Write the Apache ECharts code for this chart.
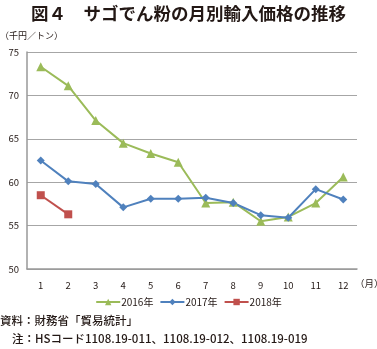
<!DOCTYPE html>
<html>
<head>
<meta charset="utf-8">
<script src="https://cdn.jsdelivr.net/npm/echarts@6/dist/echarts.min.js"></script>
<style>
  html, body { margin: 0; padding: 0; background: #fff; }
  #chart { width: 377px; height: 349px; }
</style>
</head>
<body>
<div id="chart"></div>
<script>
// Monthly import price of sago starch (thousand yen per ton)
const months = ['1', '2', '3', '4', '5', '6', '7', '8', '9', '10', '11', '12'];
const price2016 = [73.3, 71.1, 67.1, 64.5, 63.3, 62.3, 57.6, 57.7, 55.5, 56.0, 57.6, 60.6];
const price2017 = [62.5, 60.1, 59.8, 57.1, 58.1, 58.1, 58.2, 57.6, 56.2, 55.9, 59.2, 58.0];
const price2018 = [58.5, 56.3];
const yTicks = { min: 50, max: 75, step: 5 };

const FONT = '"Noto Sans CJK JP", "Noto Sans", sans-serif';
const chart = echarts.init(document.getElementById('chart'), null, { renderer: 'canvas' });

function series(name, data, color, symbol, size) {
  return {
    name: name,
    type: 'line',
    data: data,
    symbol: symbol,
    symbolSize: size,
    lineStyle: { color: color, width: 2 },
    itemStyle: { color: color },
    animation: false
  };
}

chart.setOption({
  animation: false,
  textStyle: { fontFamily: FONT },
  title: {
    text: '図４　サゴでん粉の月別輸入価格の推移',
    left: 'center',
    top: 0,
    textStyle: { fontFamily: FONT, fontSize: 17.5, fontWeight: 'bold', color: '#231815' }
  },
  grid: { left: 27, right: 20, top: 52, bottom: 80 },
  xAxis: {
    type: 'category',
    data: months,
    boundaryGap: true,
    axisLine: { lineStyle: { color: '#999999', width: 1.5 } },
    axisTick: { show: false },
    axisLabel: { color: '#231815', fontSize: 9.5, margin: 12 }
  },
  yAxis: {
    type: 'value',
    min: yTicks.min,
    max: yTicks.max,
    interval: yTicks.step,
    axisLine: { show: true, lineStyle: { color: '#999999', width: 1.5 } },
    axisTick: { show: false },
    axisLabel: { color: '#231815', fontSize: 9.5, margin: 8 },
    splitLine: { lineStyle: { color: '#A6A6A6', width: 1 } }
  },
  legend: {
    bottom: 37,
    left: 'center',
    itemWidth: 24,
    itemHeight: 8,
    itemGap: 6,
    textStyle: { fontSize: 10, color: '#231815', padding: [0, 0, 0, -4] },
    data: ['2016年', '2017年', '2018年']
  },
  graphic: [
    { type: 'text', left: 0, top: 31, style: { text: '（千円／トン）', fill: '#231815', font: '9px ' + FONT } },
    { type: 'text', left: 355, top: 279, style: { text: '（月）', fill: '#231815', font: '9.5px ' + FONT } },
    { type: 'text', left: 0, top: 315, style: { text: '資料：財務省「貿易統計」', fill: '#231815', font: '500 11.5px ' + FONT } },
    { type: 'text', left: 12, top: 333, style: { text: '注：HSコード1108.19-011、1108.19-012、1108.19-019', fill: '#231815', font: '500 11.5px ' + FONT } }
  ],
  series: [
    series('2016年', price2016, '#9BBB59', 'triangle', 9),
    series('2017年', price2017, '#4F81BD', 'diamond', 8),
    series('2018年', price2018, '#C0504D', 'rect', 8)
  ]
});
</script>
</body>
</html>
